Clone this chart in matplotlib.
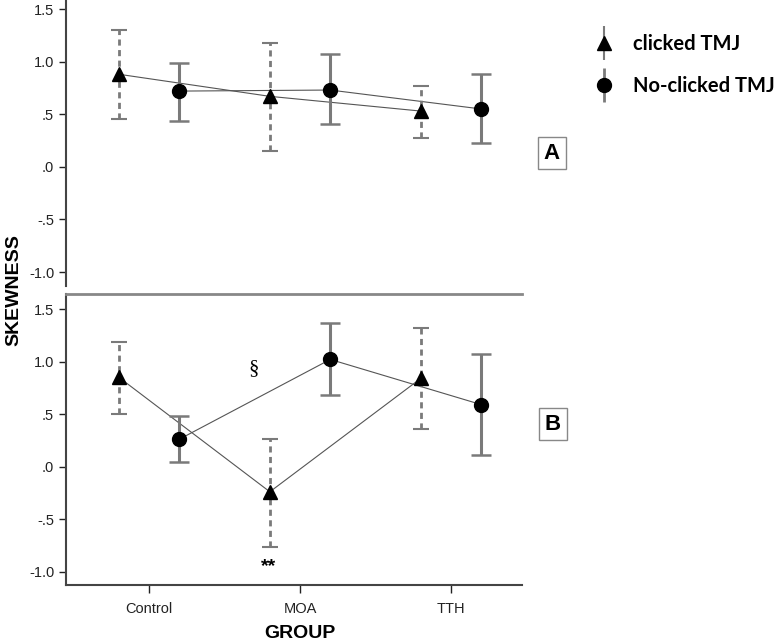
import matplotlib
matplotlib.use("Agg")
import matplotlib.pyplot as plt
import numpy as np
from matplotlib.lines import Line2D

plt.rcParams['font.family'] = ['Liberation Sans', 'DejaVu Sans']

groups = ["Control", "MOA", "TTH"]
yticks = [-1.0, -0.5, 0.0, 0.5, 1.0, 1.5]
ytick_labels = ["-1.0", "-.5", ".0", ".5", "1.0", "1.5"]

# Panel A
a_clicked_mean = [0.88, 0.67, 0.53]
a_clicked_lo = [0.45, 0.15, 0.27]
a_clicked_hi = [1.30, 1.18, 0.77]
a_noclick_mean = [0.72, 0.73, 0.55]
a_noclick_lo = [0.44, 0.41, 0.23]
a_noclick_hi = [0.99, 1.07, 0.88]

# Panel B
b_clicked_mean = [0.85, -0.24, 0.84]
b_clicked_lo = [0.50, -0.77, 0.36]
b_clicked_hi = [1.19, 0.26, 1.32]
b_noclick_mean = [0.26, 1.02, 0.59]
b_noclick_lo = [0.045, 0.68, 0.11]
b_noclick_hi = [0.48, 1.37, 1.07]

W, H = 781, 643
fig = plt.figure(figsize=(W / 100, H / 100), dpi=100)

left = 66 / W
right = 522 / W
axA = fig.add_axes([left, 1 - 286 / H, right - left, 286 / H])
axB = fig.add_axes([left, 1 - 585.3 / H, right - left, (585.3 - 294.3) / H])

x = np.arange(len(groups))
off = 0.2
err_col = "#7a7a7a"
line_col = "#555555"
spine_col = "#444444"


def draw(ax, cm, clo, chi, nm, nlo, nhi):
    cm = np.array(cm); nm = np.array(nm)
    ax.plot(x - off, cm, color=line_col, lw=0.8, zorder=2)
    ax.plot(x + off, nm, color=line_col, lw=0.8, zorder=2)
    e1 = ax.errorbar(x - off, cm, yerr=[cm - np.array(clo), np.array(chi) - cm],
                     fmt='^', color='black', ms=10, ecolor=err_col, elinewidth=2,
                     capsize=6, capthick=1.5, zorder=3)
    e1[2][0].set_linestyle((0, (2.2, 1.6)))
    ax.errorbar(x + off, nm, yerr=[nm - np.array(nlo), np.array(nhi) - nm],
                fmt='o', color='black', ms=10, ecolor=err_col, elinewidth=2.2,
                capsize=7, capthick=1.8, zorder=3)
    ax.set_xlim(-0.55, 2.47)
    ax.set_yticks(yticks)
    ax.set_yticklabels(ytick_labels)
    ax.tick_params(axis='y', direction='out', length=5, width=1, colors='#222222',
                   labelsize=10.5)
    ax.spines['left'].set_color(spine_col)
    ax.spines['left'].set_linewidth(1.5)


draw(axA, a_clicked_mean, a_clicked_lo, a_clicked_hi, a_noclick_mean, a_noclick_lo, a_noclick_hi)
draw(axB, b_clicked_mean, b_clicked_lo, b_clicked_hi, b_noclick_mean, b_noclick_lo, b_noclick_hi)

axA.set_ylim(-1.133, 1.586)
for s in ['top', 'right', 'bottom']:
    axA.spines[s].set_visible(False)
axA.set_xticks([])

axB.set_ylim(-1.13, 1.64)
axB.spines['right'].set_visible(False)
axB.spines['top'].set_color('#888888')
axB.spines['top'].set_linewidth(2)
axB.spines['bottom'].set_color(spine_col)
axB.spines['bottom'].set_linewidth(1.5)
axB.set_xticks(x)
axB.set_xticklabels(groups)
axB.tick_params(axis='x', direction='out', length=6, width=1, colors='#222222',
                labelsize=10.5, pad=6)

# annotations
axB.text(0.69, 0.93, "§", family=['Liberation Serif', 'DejaVu Serif'], fontsize=15,
         ha='center', va='center')
axB.text(0.79, -0.95, "**", fontsize=14, fontweight='bold', ha='center', va='center')

# panel labels
fig.text(552 / W, 1 - 153 / H, "A", fontsize=16, fontweight='bold', ha='center', va='center',
         bbox=dict(boxstyle='square,pad=0.25', fc='white', ec='#888888', lw=1))
fig.text(553 / W, 1 - 424 / H, "B", fontsize=16, fontweight='bold', ha='center', va='center',
         bbox=dict(boxstyle='square,pad=0.25', fc='white', ec='#888888', lw=1))

# axis labels
fig.text(14 / W, 1 - 290 / H, "SKEWNESS", rotation=90, fontsize=14, fontweight='bold',
         ha='center', va='center')
fig.text(300 / W, 1 - 634 / H, "GROUP", fontsize=14, fontweight='bold',
         ha='center', va='center')

# legend (proxy handles)
h1 = (Line2D([], [], marker='|', ms=24, mew=1.5, color=err_col, linestyle='none'),
      Line2D([], [], marker='^', ms=10, color='black', linestyle='none'))
h2 = (Line2D([], [], marker='|', ms=24, mew=2, color=err_col, linestyle='none'),
      Line2D([], [], marker='o', ms=10, color='black', linestyle='none'))
leg = fig.legend([h1, h2], ["clicked TMJ", "No-clicked TMJ"],
                 loc='upper left', bbox_to_anchor=(586 / W, 1 - 26 / H),
                 frameon=False, prop=dict(family=['Lato', 'DejaVu Sans'], weight='bold', size=14.5),
                 handlelength=1.0, handletextpad=0.95, labelspacing=1.1, borderaxespad=0)

fig.savefig("out.png", dpi=100)
